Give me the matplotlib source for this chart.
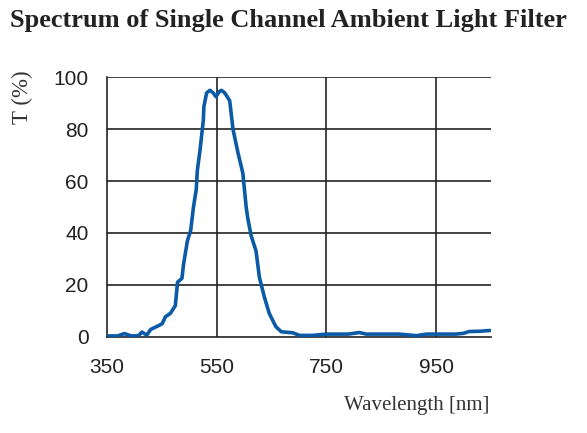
import matplotlib
matplotlib.use("Agg")
import matplotlib.pyplot as plt

# transmission curve
wavelength = [350, 370, 382, 395, 408, 414, 423, 430, 442, 451, 457, 466, 475, 479, 487,
              490, 497, 503, 508, 513, 515, 520, 526, 527, 532, 538, 544, 549, 555, 559,
              565, 574, 580, 589, 598, 604, 607, 613, 622, 628, 637, 646, 658, 668, 689,
              701, 725, 750, 790, 810, 823, 850, 883, 914, 932, 960, 986, 1000, 1010, 1030, 1048]
transmission = [0.3, 0.3, 1.2, 0.3, 0.4, 1.8, 0.6, 2.8, 4.0, 5.0, 7.7, 9.0, 12.0, 21.0, 22.5,
                28.0, 37.0, 41.0, 50.0, 56.6, 64.0, 72.0, 83.5, 88.7, 94.0, 95.0, 94.0, 92.5, 94.5, 95.0,
                94.0, 91.0, 80.0, 71.0, 63.0, 50.0, 45.6, 39.0, 33.0, 23.0, 15.4, 9.0, 3.9, 1.9, 1.5,
                0.5, 0.5, 1.0, 1.0, 1.6, 1.0, 1.0, 1.0, 0.4, 1.0, 1.0, 1.0, 1.3, 2.0, 2.1, 2.4]

x_ticks = [350, 550, 750, 950]
y_ticks = [0, 20, 40, 60, 80, 100]

fig = plt.figure(figsize=(5.87, 4.33), dpi=100)
ax = fig.add_axes([0.1818, 0.2224, 0.6547, 0.599])

# grid drawn by hand so the lines stop at the plot area like the original
for yv in y_ticks[1:]:
    ax.axhline(yv, color="#222222", lw=1.2, zorder=1)
for xv in x_ticks[1:]:
    ax.axvline(xv, color="#222222", lw=1.2, zorder=1)

ax.plot(wavelength, transmission, color="#0b5aa6", lw=2.6, zorder=3,
        solid_joinstyle="round", solid_capstyle="round")

ax.set_xlim(350, 1050)
ax.set_ylim(0, 100)
ax.set_xticks(x_ticks)
ax.set_yticks(y_ticks)
ax.tick_params(length=0, labelsize=15, colors="#222222")
ax.tick_params(axis="x", pad=15)
ax.tick_params(axis="y", pad=13)
for lab in ax.get_xticklabels() + ax.get_yticklabels():
    lab.set_family("Liberation Sans")

for side in ["top", "right"]:
    ax.spines[side].set_visible(False)
for side in ["left", "bottom"]:
    ax.spines[side].set_color("#222222")
    ax.spines[side].set_linewidth(1.2)

fig.text(0.017, 0.953, "Spectrum of Single Channel Ambient Light Filter",
         family="Liberation Serif", weight="bold", fontsize=19, color="#222222",
         ha="left", va="center")
fig.text(0.038, 0.776, "T (%)", family="Liberation Serif", fontsize=16.5,
         color="#333333", rotation=90, ha="center", va="center")
fig.text(0.833, 0.064, "Wavelength [nm]", family="Liberation Serif", fontsize=15,
         color="#333333", ha="right", va="center")

fig.savefig("out.png", dpi=100)
